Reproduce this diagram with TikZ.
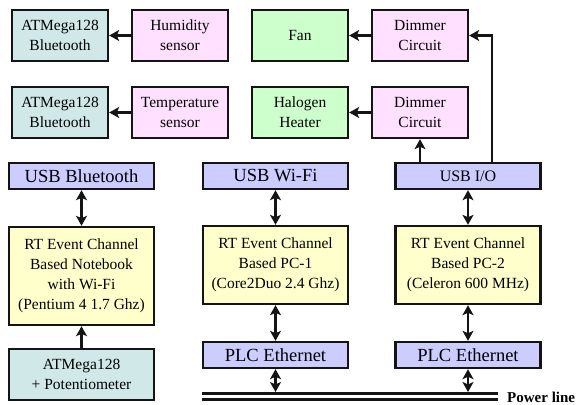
\documentclass[tikz,border=0pt]{standalone}
\usepackage{fontspec}
\setmainfont{Liberation Serif}
\usetikzlibrary{arrows.meta}
\definecolor{cyanbox}{HTML}{D0E8E8}
\definecolor{pinkbox}{HTML}{FFE0FF}
\definecolor{greenbox}{HTML}{CCFFCC}
\definecolor{lavbox}{HTML}{CCCCFF}
\definecolor{yelbox}{HTML}{FFFFCC}
\definecolor{edge}{HTML}{141414}
\tikzset{
  box/.style={draw=edge, line width=2.4pt, inner sep=0pt, align=center,
    font=\fontsize{15.5}{20}\selectfont},
  small/.style={box, minimum width=96pt, minimum height=51pt},
  wide/.style={box, minimum width=145pt},
  bar/.style={wide, minimum height=26pt, fill=lavbox, font=\fontsize{18.5}{20}\selectfont},
  conn/.style={line width=2.6pt, edge},
  tip/.style={-{Stealth[length=10pt,width=11pt,inset=2.5pt]}},
  dtip/.style={{Stealth[length=10pt,width=11pt,inset=2.5pt]}-{Stealth[length=10pt,width=11pt,inset=2.5pt]}},
}
\begin{document}
\begin{tikzpicture}[x=1pt,y=-1pt]
\useasboundingbox (0,0) rectangle (580,404);
% row 1
\node[small, fill=cyanbox] (atm1) at (60,35.5) {ATMega128\\Bluetooth};
\node[small, fill=pinkbox] (hum) at (180,35.5) {Humidity\\sensor};
\node[small, fill=greenbox] (fan) at (300,35.5) {Fan};
\node[small, fill=pinkbox] (dim1) at (420,35.5) {Dimmer\\Circuit};
% row 2
\node[small, fill=cyanbox] (atm2) at (60,112.5) {ATMega128\\Bluetooth};
\node[small, fill=pinkbox] (temp) at (180,112.5) {Temperature\\sensor};
\node[small, fill=greenbox] (hal) at (300,112.5) {Halogen\\Heater};
\node[small, fill=pinkbox] (dim2) at (420,112.5) {Dimmer\\Circuit};
% USB row
\node[bar] (usbbt) at (81.5,176) {USB Bluetooth};
\node[bar] (usbwifi) at (275.5,176) {USB Wi-Fi};
\node[bar, font=\fontsize{16}{20}\selectfont] (usbio) at (468,176) {USB I/O};
% RT boxes
\node[wide, minimum height=98pt, fill=yelbox] (rt1) at (81.5,276) {RT Event Channel\\Based Notebook\\with Wi-Fi\\(Pentium 4 1.7 Ghz)};
\node[wide, minimum height=78pt, fill=yelbox] (rt2) at (275.5,265) {RT Event Channel\\Based PC-1\\(Core2Duo 2.4 Ghz)};
\node[wide, minimum height=78pt, fill=yelbox] (rt3) at (468,265) {RT Event Channel\\Based PC-2\\(Celeron 600 MHz)};
% bottom
\node[wide, minimum height=51pt, fill=cyanbox] (pot) at (81.5,374.5) {ATMega128\\+ Potentiometer};
\node[bar] (plc1) at (275.5,355) {PLC Ethernet};
\node[bar] (plc2) at (468,355) {PLC Ethernet};
% power line
\coordinate (pl1) at (202,393.5);
\coordinate (pl2) at (498,393.5);
\coordinate (pl3) at (202,399);
\coordinate (pl4) at (498,399);
\draw[conn, line width=3pt] (pl1) -- (pl2);
\draw[conn, line width=3pt] (pl3) -- (pl4);
\node[anchor=west, font=\fontsize{15}{18}\selectfont\bfseries, inner sep=0pt] (plabel) at (507,397) {Power line};
% connectors
\draw[conn, tip] (hum) -- (atm1);
\draw[conn, tip] (temp) -- (atm2);
\draw[conn, tip] (dim1) -- (fan);
\draw[conn, tip] (dim2) -- (hal);
\draw[conn, tip] (usbio.north -| dim2) -- (dim2.south);
\coordinate (c1) at (492,35.5);
\draw[conn, tip] (usbio.north -| c1) -- (c1) -- (dim1.east);
\draw[conn, dtip] (usbbt) -- (rt1);
\draw[conn, dtip] (usbwifi) -- (rt2);
\draw[conn, dtip] (usbio) -- (rt3);
\draw[conn, dtip] (rt2) -- (plc1);
\draw[conn, dtip] (rt3) -- (plc2);
\draw[conn, tip] (pot) -- (rt1);
\coordinate (p1) at (275.5,392);
\coordinate (p2) at (468,392);
\draw[conn, dtip] (plc1) -- (p1);
\draw[conn, dtip] (plc2) -- (p2);
\end{tikzpicture}
\end{document}
